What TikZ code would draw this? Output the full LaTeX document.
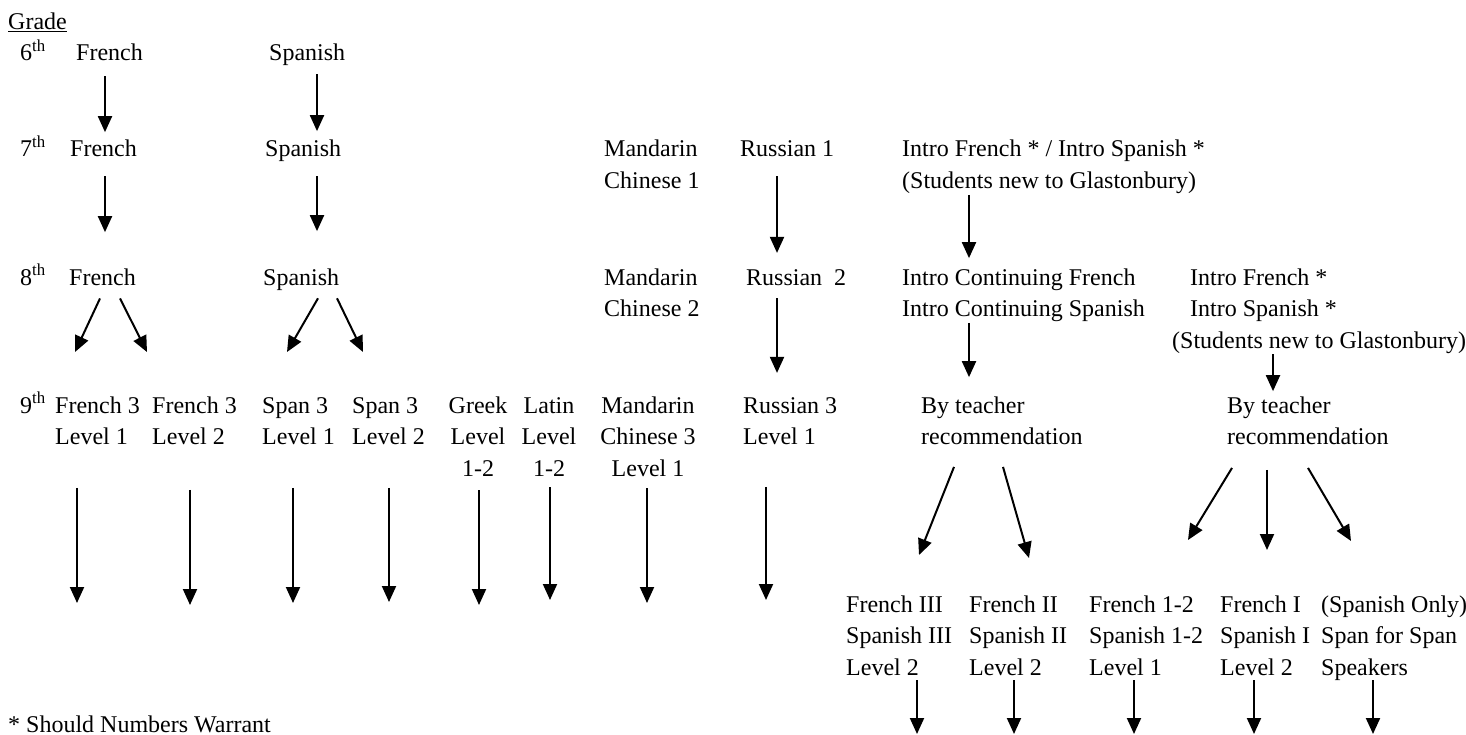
\documentclass[tikz,border=0pt]{standalone}
\usepackage{fontspec}
\setmainfont{Liberation Serif}
\usetikzlibrary{arrows.meta}
\tikzstyle{course} = [inner sep=0pt, anchor=base west, align=left, font=\fontsize{24}{31.5}\selectfont]
\tikzstyle{ccourse} = [course, anchor=base, align=center]
\tikzstyle{arrow} = [line width=2pt, ->, >={Stealth[inset=0pt, length=16pt, width=14pt]}]

\begin{document}
\begin{tikzpicture}[x=1pt, y=-1pt]
\useasboundingbox (0,0) rectangle (1466,735);

% Grades (nodes sit on the baseline of their last line)
\node (Gr) [course] at (8,30) {\underline{Grade}};
\node (G6) [course] at (20,61) {6\textsuperscript{th}};
\node (G7) [course] at (20,157) {7\textsuperscript{th}};
\node (G8) [course] at (20,285) {8\textsuperscript{th}};
\node (G9) [course] at (20,413) {9\textsuperscript{th}};

% 6th grade
\node (F6) [course] at (76,61) {French};
\node (S6) [course] at (269,61) {Spanish};

% 7th grade
\node (F7) [course] at (70,157) {French};
\node (S7) [course] at (265,157) {Spanish};
\node (M7) [course] at (604,188.5) {Mandarin\\Chinese 1};
\node (R7) [course] at (740,157) {Russian 1};
\node (I7) [course] at (902,188.5) {Intro French * / Intro Spanish *\\(Students new to Glastonbury)};

% 8th grade
\node (F8) [course] at (69,285) {French};
\node (S8) [course] at (263,285) {Spanish};
\node (M8) [course] at (604,316.5) {Mandarin\\Chinese 2};
\node (R8) [course] at (746,285) {Russian\ \ 2};
\node (C8) [course] at (902,316.5) {Intro Continuing French\\Intro Continuing Spanish};
\node (N8) [course] at (1172,348) {\hspace*{18pt}Intro French *\\\hspace*{18pt}Intro Spanish *\\(Students new to Glastonbury)};

% 9th grade
\node (T1) [course] at (55,444.5) {French 3\\Level 1};
\node (T2) [course] at (152,444.5) {French 3\\Level 2};
\node (T3) [course] at (262,444.5) {Span 3\\Level 1};
\node (T4) [course] at (352,444.5) {Span 3\\Level 2};
\node (T5) [ccourse] at (478,476) {Greek\\Level\\1-2};
\node (T6) [ccourse] at (549,476) {Latin\\Level\\1-2};
\node (T7) [ccourse] at (648,476) {Mandarin\\Chinese 3\\Level 1};
\node (T8) [course] at (743,444.5) {Russian 3\\Level 1};
\node (B9a) [course] at (921,444.5) {By teacher\\recommendation};
\node (B9b) [course] at (1227,444.5) {By teacher\\recommendation};

% Placement by teacher
\node (L1) [course] at (846,675) {French III\\Spanish III\\Level 2};
\node (L2) [course] at (969,675) {French II\\Spanish II\\Level 2};
\node (L3) [course] at (1089,675) {French 1-2\\Spanish 1-2\\Level 1};
\node (L4) [course] at (1220,675) {French I\\Spanish I\\Level 2};
\node (L5) [course] at (1321,675) {(Spanish Only)\\Span for Span\\Speakers};

\node (Fn) [course] at (8,732) {* Should Numbers Warrant};

% Free arrow ends
\coordinate (f8a) at (75,352);
\coordinate (f8b) at (147,352);
\coordinate (s8a) at (287,352);
\coordinate (s8b) at (363,352);
\coordinate (t1) at (77,603);
\coordinate (t2) at (190,605);
\coordinate (t3) at (293,603);
\coordinate (t4) at (389,602);
\coordinate (t5) at (479,605);
\coordinate (t6) at (550,600);
\coordinate (t7) at (647,603);
\coordinate (t8) at (766,600);
\coordinate (b9a) at (919,555);
\coordinate (b9b) at (1029,558);
\coordinate (b9c) at (1188,540);
\coordinate (b9d) at (1267,550);
\coordinate (b9e) at (1351,541);
\coordinate (l1) at (917,734);
\coordinate (l2) at (1014,734);
\coordinate (l3) at (1134,734);
\coordinate (l4) at (1254,734);
\coordinate (l5) at (1373,734);

% Connecting arrows
\draw [arrow, shorten <=15pt, shorten >=8pt] ([xshift=29pt]F6.south west) -- ([xshift=29pt]F6.south west |- F7.north);
\draw [arrow, shorten <=8pt, shorten >=9pt] ([xshift=48pt]S6.south west) -- ([xshift=48pt]S6.south west |- S7.north);
\draw [arrow, shorten <=19pt, shorten >=36pt] ([xshift=35pt]F7.south west) -- ([xshift=35pt]F7.south west |- F8.north);
\draw [arrow, shorten <=14pt, shorten >=37pt] ([xshift=52pt]S7.south west) -- ([xshift=52pt]S7.south west |- S8.north);
\draw [arrow, shorten <=19pt, shorten >=16pt] ([xshift=37pt]R7.south west) -- ([xshift=37pt]R7.south west |- R8.north);
\draw [arrow, shorten <=1pt, shorten >=10pt] ([xshift=67pt]I7.south west) -- ([xshift=67pt]I7.south west |- C8.north);
\draw [arrow, shorten <=13pt, shorten >=24pt] ([xshift=31pt]R8.south west) -- ([xshift=31pt]R8.south west |- T8.north);
\draw [arrow, shorten <=1pt, shorten >=19pt] ([xshift=67pt]C8.south west) -- ([xshift=67pt]C8.south west |- B9a.north);
\draw [arrow, shorten <=1pt, shorten >=5pt] ([xshift=101pt]N8.south west) -- ([xshift=101pt]N8.south west |- B9b.north);

\draw [arrow] ([xshift=31pt, yshift=-13pt]F8.south west) -- (f8a);
\draw [arrow] ([xshift=51pt, yshift=-13pt]F8.south west) -- (f8b);
\draw [arrow] ([xshift=55pt, yshift=-8pt]S8.south west) -- (s8a);
\draw [arrow] ([xshift=74pt, yshift=-8pt]S8.south west) -- (s8b);

\draw [arrow] ([xshift=22pt, yshift=-43pt]T1.south west) -- (t1);
\draw [arrow] ([xshift=38pt, yshift=-45pt]T2.south west) -- (t2);
\draw [arrow] ([xshift=31pt, yshift=-43pt]T3.south west) -- (t3);
\draw [arrow] ([xshift=37pt, yshift=-43pt]T4.south west) -- (t4);
\draw [arrow] ([xshift=1pt, yshift=-14pt]T5.south) -- (t5);
\draw [arrow] ([xshift=1pt, yshift=-11pt]T6.south) -- (t6);
\draw [arrow] ([xshift=-1pt, yshift=-12pt]T7.south) -- (t7);
\draw [arrow] ([xshift=23pt, yshift=-42pt]T8.south west) -- (t8);

\draw [arrow] ([xshift=33pt, yshift=-22pt]B9a.south west) -- (b9a);
\draw [arrow] ([xshift=82pt, yshift=-22pt]B9a.south west) -- (b9b);
\draw [arrow] ([xshift=5pt, yshift=-23pt]B9b.south west) -- (b9c);
\draw [arrow] ([xshift=40pt, yshift=-25pt]B9b.south west) -- (b9d);
\draw [arrow] ([xshift=81pt, yshift=-23pt]B9b.south west) -- (b9e);

\draw [arrow] ([xshift=71pt, yshift=-5pt]L1.south west) -- (l1);
\draw [arrow] ([xshift=45pt, yshift=-5pt]L2.south west) -- (l2);
\draw [arrow] ([xshift=45pt, yshift=-5pt]L3.south west) -- (l3);
\draw [arrow] ([xshift=34pt, yshift=-5pt]L4.south west) -- (l4);
\draw [arrow] ([xshift=52pt, yshift=0pt]L5.south west) -- (l5);

\end{tikzpicture}
\end{document}
